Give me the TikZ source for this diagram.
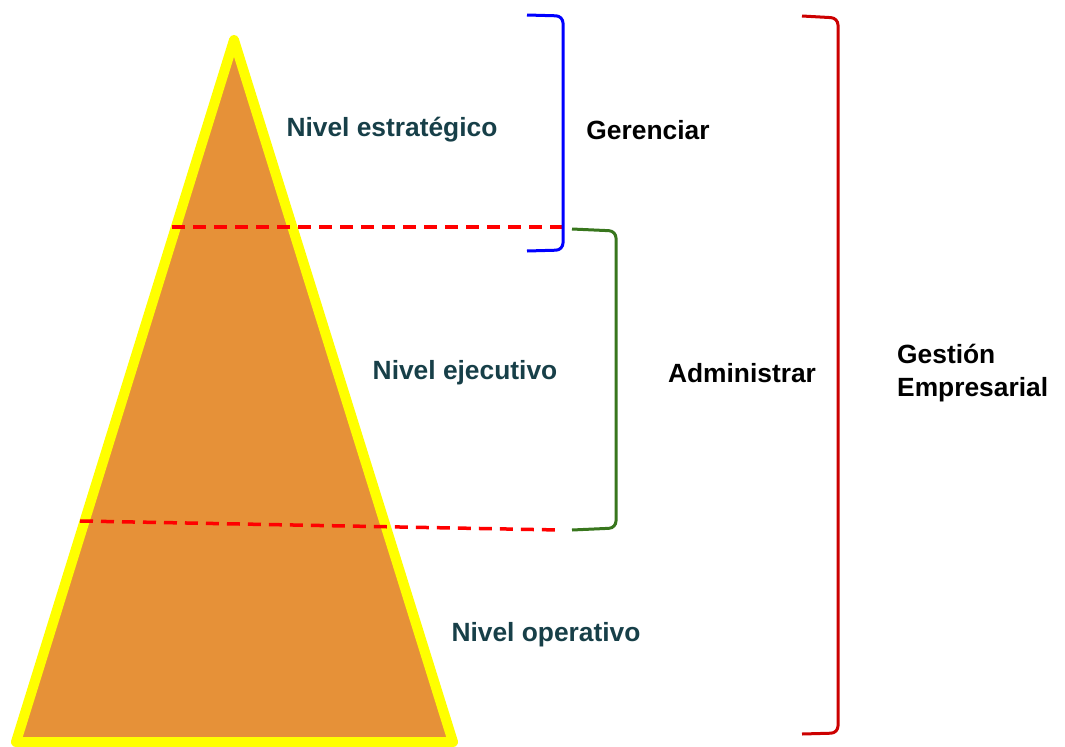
\documentclass[tikz,border=0pt]{standalone}
\usepackage{fontspec}
\setmainfont{Liberation Sans}
\definecolor{piramide}{HTML}{E69138}
\definecolor{borde}{HTML}{FFFF00}
\definecolor{nivel}{HTML}{173F48}
\definecolor{rojo}{HTML}{CC0000}
\definecolor{verde}{HTML}{38761D}
\begin{document}
\begin{tikzpicture}[x=0.02cm, y=-0.02cm]
    \useasboundingbox (0,0) rectangle (1065,747);

    % piramide
    \begin{scope}[every node/.style={inner sep=0pt}]
        \coordinate (apex) at (234,40);
        \coordinate (left) at (16,742);
        \coordinate (right) at (453,742);
        \filldraw[fill=piramide, draw=borde, line width=10*0.02cm, line join=round] (apex) -- (left) -- (right) -- cycle;
    \end{scope}

    % lineas de corte
    \begin{scope}[every path/.style={draw=red, line width=3.5*0.02cm, dash pattern=on 13*0.02cm off 8*0.02cm}]
        \coordinate (c1) at (172,227);
        \coordinate (c2) at (562,227);
        \coordinate (c3) at (80,521);
        \coordinate (c4) at (560,530);
        \path (c1) -- (c2);
        \path (c3) -- (c4);
    \end{scope}

    % llaves
    \begin{scope}[every path/.style={line width=3*0.02cm, rounded corners=4}]
        \coordinate (b1) at (527,15);
        \coordinate (b2) at (563,16);
        \coordinate (b3) at (563,250);
        \coordinate (b4) at (527,251);
        \draw[blue] (b1) -- (b2) -- (b3) -- (b4);

        \coordinate (g1) at (572,229);
        \coordinate (g2) at (616,231);
        \coordinate (g3) at (616,528);
        \coordinate (g4) at (572,530);
        \draw[verde] (g1) -- (g2) -- (g3) -- (g4);

        \coordinate (r1) at (802,16);
        \coordinate (r2) at (838,18);
        \coordinate (r3) at (838,733);
        \coordinate (r4) at (802,734);
        \draw[rojo] (r1) -- (r2) -- (r3) -- (r4);
    \end{scope}

    % textos
    \begin{scope}[every node/.style={font=\bfseries\fontsize{15}{18.8}\selectfont, text=nivel}]
        \node (estrategico) at (392,130) {Nivel estratégico};
        \node (ejecutivo) at (465,373) {Nivel ejecutivo};
        \node (operativo) at (546,635) {Nivel operativo};
    \end{scope}

    \begin{scope}[every node/.style={font=\bfseries\fontsize{15}{18.8}\selectfont, text=black}]
        \node (gerenciar) at (648,130) {Gerenciar};
        \node (administrar) at (742,373) {Administrar};
        \node[anchor=west, align=left] (gestion) at (891,373) {Gestión\\Empresarial};
    \end{scope}
\end{tikzpicture}
\end{document}
